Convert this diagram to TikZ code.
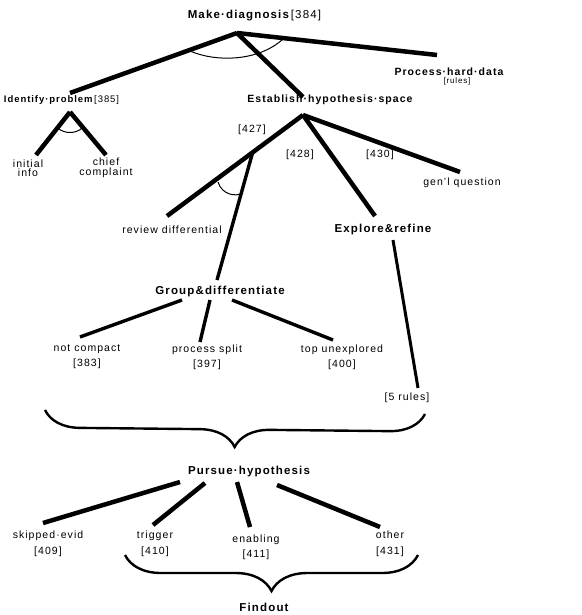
\documentclass[tikz,border=0pt]{standalone}
\usepackage{fontspec}
\setmainfont{Liberation Sans}[LetterSpace=10]
\usetikzlibrary{calc,decorations.pathreplacing}
\begin{document}
\begin{tikzpicture}[x=1pt,y=-1pt,
  branch/.style={draw=black,line width=4.5pt},
  twig/.style={draw=black,line width=3.4pt},
  andarc/.style={draw=black,line width=1pt},
  head/.style={font=\bfseries\fontsize{11.5}{12}\selectfont,inner sep=1pt},
  leaf/.style={font=\fontsize{10.5}{15}\selectfont,align=center,inner sep=1pt},
  curly/.style={draw=black,line width=2.4pt,decorate,decoration={brace,amplitude=#1}},
]
\useasboundingbox (0,0) rectangle (581,615);
% goals and their rule numbers
\node[head] (diag) at (255,16) {Make·diagnosis\,\textmd{[384]}};
\node[head,font=\bfseries\fontsize{9.5}{10}\selectfont] (ident) at (62,100) {Identify·problem\,\textmd{[385]}};
\node[head,font=\bfseries\fontsize{10.5}{11}\selectfont] (estab) at (330,100) {Establish·hypothesis·space};
\node[head,font=\bfseries\fontsize{10.5}{11}\selectfont] (hard) at (449,72) {Process·hard·data};
\node[leaf,font=\fontsize{8}{8}\selectfont] (hardrules) at (457,81) {[rules]};
\node[leaf,font=\fontsize{10.5}{9}\selectfont] (init) at (28,168) {initial\\info};
\node[leaf,font=\fontsize{10.5}{10}\selectfont] (chief) at (106,168) {chief\\complaint};
\node[leaf] (n427) at (252,130) {[427]};
\node[leaf] (n428) at (300,155) {[428]};
\node[leaf] (n430) at (380,155) {[430]};
\node[leaf] (genl) at (462,183) {gen'l question};
\node[leaf] (review) at (172,230) {review differential};
\node[head] (explore) at (383,230) {Explore\&refine};
\node[head] (group) at (220,292) {Group\&differentiate};
\node[leaf] (notc) at (87,357) {not compact\\{[383]}};
\node[leaf] (split) at (207,357) {process split\\{[397]}};
\node[leaf] (topu) at (342,357) {top unexplored\\{[400]}};
\node[leaf] (rules5) at (407,398) {[5 rules]};
\node[head] (pursue) at (249,472) {Pursue·hypothesis};
\node[leaf,font=\fontsize{10.5}{16.5}\selectfont] (skip) at (48,544) {skipped·evid\\{[409]}};
\node[leaf,font=\fontsize{10.5}{16.5}\selectfont] (trig) at (155,544) {trigger\\{[410]}};
\node[leaf,font=\fontsize{10.5}{15}\selectfont] (enab) at (256,547) {enabling\\{[411]}};
\node[leaf,font=\fontsize{10.5}{16.5}\selectfont] (other) at (390,544) {other\\{[431]}};
\node[head] (find) at (264,607) {Findout};
% attachment points
\coordinate (diagapex) at (237,33);
\coordinate (identtop) at (70,93);
\coordinate (estabtop) at (303,97);
\coordinate (hardtop) at (437,55);
\coordinate (identapex) at (70,112);
\coordinate (inittop) at (36,155);
\coordinate (chieftop) at (106,155);
\coordinate (estabapex) at (303,115);
\coordinate (reviewtop) at (167,216);
\coordinate (exploretop) at (375,216);
\coordinate (genltop) at (460,172);
\coordinate (fork) at ($(estabapex)!0.37!(reviewtop)$);
\coordinate (grouptop) at (217,280);
\coordinate (exploreapex) at (393,240);
\coordinate (rules5top) at (418,388);
% and-branches
\draw[branch] (diagapex) -- (identtop);
\draw[branch] (diagapex) -- (estabtop);
\draw[branch] (diagapex) -- (hardtop);
\draw[andarc] (190,51) .. controls (215,62) and (258,62) .. (283,39);
\draw[branch] (identapex) -- (inittop);
\draw[branch] (identapex) -- (chieftop);
\draw[andarc] (58,128) .. controls (64,134) and (76,134) .. (82,128);
\draw[branch] (estabapex) -- (reviewtop);
\draw[branch] (estabapex) -- (exploretop);
\draw[branch] (estabapex) -- (genltop);
\draw[twig] (fork) -- (grouptop);
\draw[andarc] (218,182) .. controls (222,195) and (236,197) .. (243,193);
\draw[twig,line width=3pt] (exploreapex) -- (rules5top);
% group & differentiate
\draw[twig] (182,300) -- (80,337);
\draw[twig] (210,300) -- (200,342);
\draw[twig] (232,300) -- (333,340);
% pursue hypothesis
\draw[branch] (180,482) -- (43,523);
\draw[branch] (205,483) -- (153,525);
\draw[branch] (237,482) -- (250,527);
\draw[branch] (277,485) -- (380,527);
% braces
\draw[curly=35] (425,414) -- (45,410);
\draw[curly=36] (418,555) -- (125,555);
\end{tikzpicture}
\end{document}
